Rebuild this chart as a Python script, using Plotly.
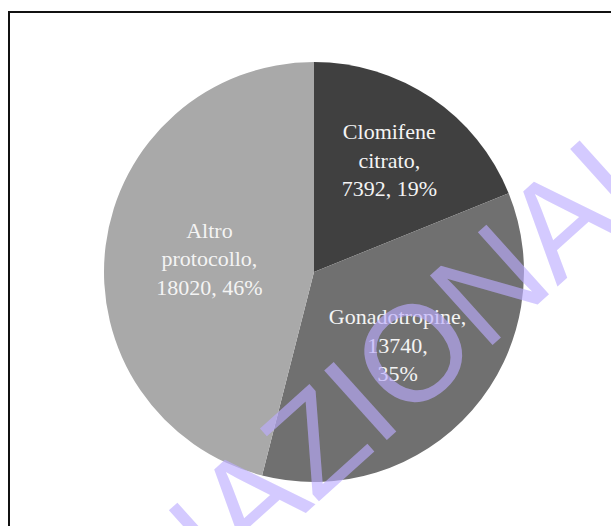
import plotly.graph_objects as go

# Protocol categories and number of cycles
categories = ["Clomifene citrato", "Gonadotropine", "Altro protocollo"]
cycles = [7392, 13740, 18020]
slice_colors = ["#404040", "#707070", "#a9a9a9"]

# Label layouts (line breaks) for each slice
label_templates = [
    "Clomifene<br>citrato,<br>%{value:d}, %{percent:.0%}",
    "Gonadotropine,<br>%{value:d},<br>%{percent:.0%}",
    "Altro<br>protocollo,<br>%{value:d}, %{percent:.0%}",
]

W, H = 611, 526

fig = go.Figure(
    go.Pie(
        labels=categories,
        values=cycles,
        sort=False,
        direction="clockwise",
        rotation=0,
        marker=dict(colors=slice_colors, line=dict(width=0)),
        texttemplate=label_templates,
        textposition="inside",
        insidetextorientation="horizontal",
        textfont=dict(family="Liberation Serif", size=22, color="#f4f4f4"),
        hoverinfo="label+value+percent",
        showlegend=False,
        domain=dict(x=[104 / W, 524 / W], y=[1 - 482 / H, 1 - 62 / H]),
    )
)

# Chart frame
fig.add_shape(
    type="rect", xref="paper", yref="paper",
    x0=9 / W, x1=1.05, y0=-0.05, y1=1 - 12 / H,
    line=dict(color="#111111", width=2), layer="above",
)

# Diagonal watermark
fig.add_annotation(
    text="NAZIONALE", xref="paper", yref="paper",
    x=430 / W, y=1 - 338 / H, xanchor="center", yanchor="middle",
    showarrow=False, textangle=-42,
    font=dict(family="Liberation Sans", size=136, color="rgba(187,172,255,0.64)"),
)

fig.update_layout(
    width=W, height=H,
    margin=dict(l=0, r=0, t=0, b=0),
    paper_bgcolor="white", plot_bgcolor="white",
)

fig.write_html("out.html")
